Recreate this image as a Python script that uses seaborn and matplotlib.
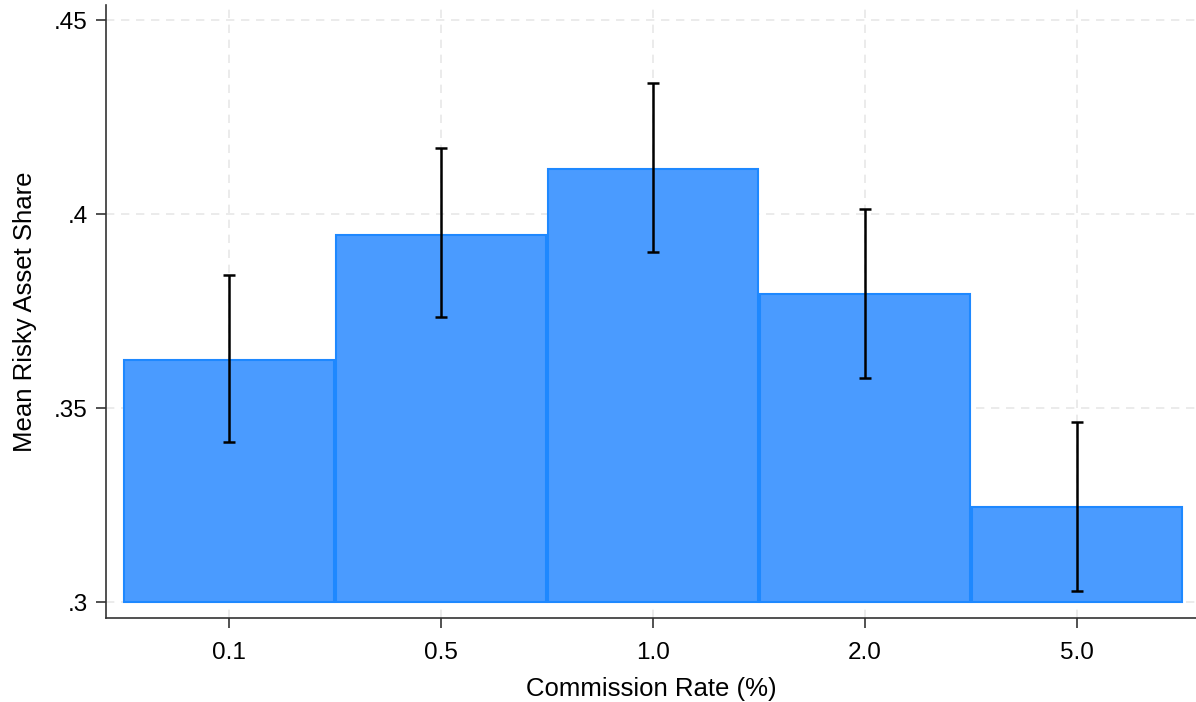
import pandas as pd
import numpy as np
import matplotlib
matplotlib.use("Agg")
import matplotlib.pyplot as plt
import seaborn as sns
from matplotlib.ticker import FuncFormatter

# values
rates = ["0.1", "0.5", "1.0", "2.0", "5.0"]
mean_share = [0.3624, 0.3948, 0.4116, 0.3794, 0.3245]
ci_low = [0.3412, 0.3735, 0.3902, 0.3577, 0.3028]
ci_high = [0.3843, 0.4170, 0.4338, 0.4015, 0.3464]

df = pd.DataFrame({"rate": rates, "share": mean_share})

sns.set_style("white")
plt.rcParams["font.family"] = ["Liberation Sans", "DejaVu Sans"]

fig = plt.figure(figsize=(11.96, 7.02), dpi=100)
ax = fig.add_axes([0.0886, 0.1197, 0.9114, 0.8732])

base = 0.3
sns.barplot(data=df, x="rate", y=df["share"] - base, bottom=base, errorbar=None,
            color="#4a9bff", edgecolor="#1e88ff", linewidth=1.5, width=0.99,
            saturation=1, ax=ax, zorder=2)

x = np.arange(len(rates))
yerr = [np.array(mean_share) - np.array(ci_low), np.array(ci_high) - np.array(mean_share)]
ax.errorbar(x, mean_share, yerr=yerr, fmt="none", ecolor="black",
            elinewidth=1.8, capsize=4.5, capthick=1.8, zorder=3)

ax.set_ylim(0.2959, 0.454)
ax.set_xlim(-0.58, 4.56)
ax.set_yticks([0.30, 0.35, 0.40, 0.45])
ax.yaxis.set_major_formatter(FuncFormatter(lambda v, p: ("%.2f" % v).lstrip("0").rstrip("0")))

ax.grid(True, color="#e8e8e8", linestyle=(0, (5, 4)), linewidth=1.2, zorder=0)
ax.set_axisbelow(True)

for s in ["top", "right"]:
    ax.spines[s].set_visible(False)
for s in ["left", "bottom"]:
    ax.spines[s].set_color("#333333")
    ax.spines[s].set_linewidth(1.2)

ax.tick_params(axis="both", direction="out", length=7, width=1.2, color="#333333",
               labelsize=17.5, labelcolor="black", pad=6, left=True, bottom=True)
ax.tick_params(axis="x", pad=10)
ax.set_xlabel("Commission Rate (%)", fontsize=18.5, color="black", labelpad=10)
ax.set_ylabel("Mean Risky Asset Share", fontsize=18.5, color="black", labelpad=12)

plt.savefig("out.png", dpi=100)
